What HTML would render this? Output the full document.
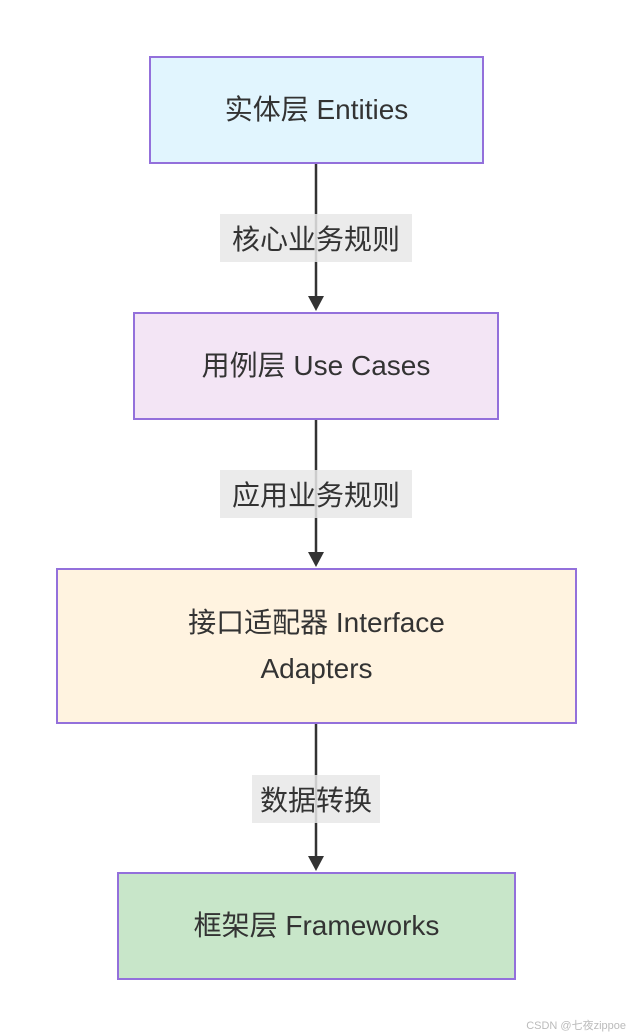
<!DOCTYPE html>
<html><head><meta charset="utf-8"><style>
html,body{margin:0;padding:0;background:#fff;}
body{width:632px;height:1036px;position:relative;overflow:hidden;font-family:"Liberation Sans","Noto Sans CJK SC",sans-serif;color:#333;}
.box{position:absolute;box-sizing:border-box;border:2px solid #9370db;display:flex;align-items:center;justify-content:center;text-align:center;font-size:28px;line-height:46px;}
.lbl{position:absolute;background:rgba(232,232,232,0.85);font-size:28px;display:flex;align-items:center;justify-content:center;color:#333;}
.wm{position:absolute;right:6px;bottom:3px;font-size:11px;color:#bbb;}
</style></head><body>
<svg width="632" height="1036" style="position:absolute;left:0;top:0">
<g stroke="#333" stroke-width="2.5">
<line x1="316" y1="163" x2="316" y2="298"/>
<line x1="316" y1="419" x2="316" y2="554"/>
<line x1="316" y1="723" x2="316" y2="858"/>
</g>
<g fill="#333">
<polygon points="308,296 324,296 316,311"/>
<polygon points="308,552 324,552 316,567"/>
<polygon points="308,856 324,856 316,871"/>
</g>
</svg>
<div class="box" style="left:149px;top:56px;width:335px;height:108px;background:#e1f5fe;">实体层 Entities</div>
<div class="box" style="left:133px;top:312px;width:366px;height:108px;background:#f3e5f5;">用例层 Use Cases</div>
<div class="box" style="left:56px;top:568px;width:521px;height:156px;background:#fff3e0;">接口适配器 Interface<br>Adapters</div>
<div class="box" style="left:117px;top:872px;width:399px;height:108px;background:#c8e6c9;">框架层 Frameworks</div>
<div class="lbl" style="left:220px;top:214px;width:192px;height:48px;">核心业务规则</div>
<div class="lbl" style="left:220px;top:470px;width:192px;height:48px;">应用业务规则</div>
<div class="lbl" style="left:252px;top:775px;width:128px;height:48px;">数据转换</div>
<div class="wm">CSDN @七夜zippoe</div>
</body></html>
